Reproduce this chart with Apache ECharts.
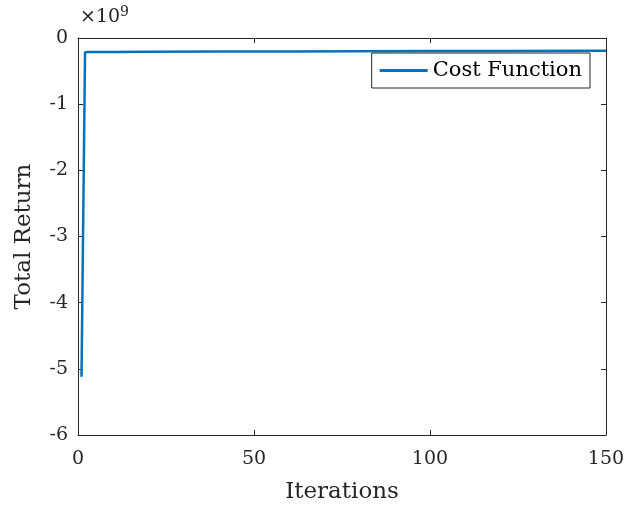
<!DOCTYPE html>
<html><head><meta charset="utf-8">
<script src="https://cdn.jsdelivr.net/npm/echarts@6/dist/echarts.min.js"></script>
<style>html,body{margin:0;padding:0;background:#fff}#c{width:627px;height:507px}</style>
</head><body><div id="c"></div>
<script>
const iterations = [1, 2, 3, 5, 10, 20, 40, 60, 80, 100, 120, 150];
const costValues = [-5.12e9, -0.215e9, -0.213e9, -0.212e9, -0.211e9, -0.208e9, -0.205e9, -0.203e9, -0.2e9, -0.198e9, -0.196e9, -0.193e9];
const xTicks = [0, 50, 100, 150];
const yTicks = [-6, -5, -4, -3, -2, -1, 0];
const seriesName = 'Cost Function';
const FONT = 'DejaVu Serif';
const axisColor = '#262626';

const chart = echarts.init(document.getElementById('c'), null, {renderer: 'canvas'});
const axLine = {show: true, onZero: false, lineStyle: {color: axisColor, width: 1}};
const tick = {show: true, inside: true, length: 5, lineStyle: {color: axisColor}};
chart.setOption({
  animation: false,
  backgroundColor: '#fff',
  grid: {left: 78, top: 38, right: 21, bottom: 72, containLabel: false, outerBoundsMode: 'none'},
  xAxis: [{
    type: 'value', min: 0, max: 150, interval: 50,
    name: 'Iterations', nameLocation: 'middle', nameGap: 46,
    nameTextStyle: {fontFamily: FONT, fontSize: 23, color: axisColor},
    axisLine: axLine, axisTick: tick,
    axisLabel: {fontFamily: FONT, fontSize: 19, color: axisColor, margin: 15,
      formatter: v => xTicks.includes(v) ? String(v) : ''},
    splitLine: {show: false}
  }, {
    type: 'value', min: 0, max: 150, interval: 50, position: 'top',
    axisLine: axLine, axisTick: tick,
    axisLabel: {show: false}, splitLine: {show: false}
  }],
  yAxis: [{
    type: 'value', min: -6e9, max: 0, interval: 1e9,
    name: 'Total Return', nameLocation: 'middle', nameGap: 42, nameRotate: 90,
    nameTextStyle: {fontFamily: FONT, fontSize: 23, color: axisColor},
    axisLine: axLine, axisTick: tick,
    axisLabel: {fontFamily: FONT, fontSize: 19, color: axisColor, margin: 10,
      formatter: v => { const t = Math.round(v / 1e9); return yTicks.includes(t) ? String(t) : ''; }},
    splitLine: {show: false}
  }, {
    type: 'value', min: -6e9, max: 0, interval: 1e9, position: 'right',
    axisLine: axLine, axisTick: tick,
    axisLabel: {show: false}, splitLine: {show: false}
  }],
  legend: {
    show: true, right: 37, top: 53,
    backgroundColor: '#fff', borderColor: '#262626', borderWidth: 1,
    padding: [7, 8, 7, 8], itemWidth: 48, itemHeight: 3, itemGap: 6,
    textStyle: {fontFamily: FONT, fontSize: 21, color: '#000'},
    icon: 'rect',
    data: [{name: seriesName, itemStyle: {color: '#0072BD'}}]
  },
  series: [{
    name: seriesName, type: 'line', xAxisIndex: 0, yAxisIndex: 0,
    data: iterations.map((x, i) => [x, costValues[i]]),
    showSymbol: false, symbol: 'none',
    lineStyle: {color: '#0072BD', width: 2.5},
    itemStyle: {color: '#0072BD'}
  }],
  graphic: [{
    type: 'text', left: 80, top: 5,
    style: {
      text: '{a|×10}{b|9}',
      rich: {
        a: {fontFamily: FONT, fontSize: 19, fill: axisColor, verticalAlign: 'bottom'},
        b: {fontFamily: FONT, fontSize: 14, fill: axisColor, verticalAlign: 'top', padding: [0,0,8,0]}
      }
    }
  }]
});
</script></body></html>
